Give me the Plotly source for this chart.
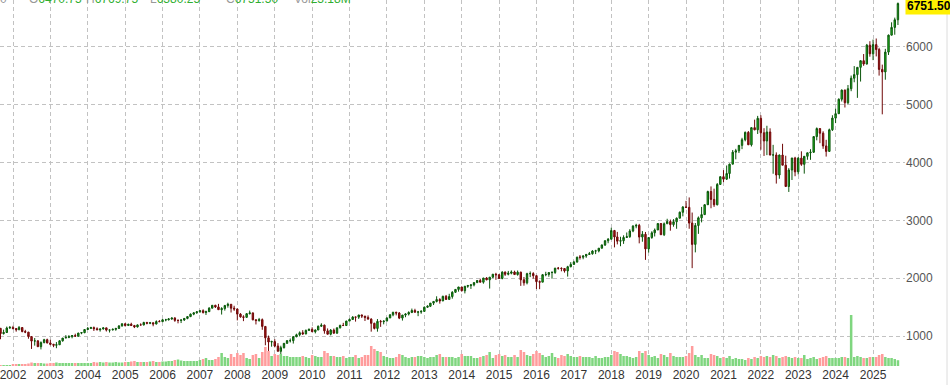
import plotly.graph_objects as go
import pandas as pd

# Monthly candles, Sep 2001 .. Sep 2025
dates = pd.date_range("2001-09-01", periods=289, freq="MS")

opens = [
    1133, 1041, 1060, 1139,
    1148, 1130, 1107, 1147, 1077, 1067, 990, 912, 916, 815, 886, 936,
    880, 856, 841, 848, 917, 964, 975, 990, 1008, 996, 1051, 1058,
    1112, 1131, 1145, 1126, 1107, 1121, 1141, 1102, 1104, 1115, 1130, 1174,
    1212, 1181, 1204, 1181, 1157, 1192, 1191, 1234, 1220, 1229, 1207, 1250,
    1248, 1280, 1281, 1295, 1311, 1270, 1270, 1277, 1304, 1336, 1378, 1401,
    1418, 1438, 1407, 1421, 1482, 1531, 1503, 1455, 1474, 1527, 1549, 1481,
    1468, 1379, 1331, 1323, 1386, 1400, 1280, 1267, 1283, 1166, 969, 896,
    903, 826, 735, 798, 873, 919, 919, 988, 1021, 1057, 1036, 1096,
    1115, 1074, 1104, 1169, 1187, 1089, 1031, 1102, 1049, 1141, 1183, 1181,
    1258, 1286, 1327, 1326, 1364, 1345, 1321, 1292, 1219, 1131, 1253, 1247,
    1258, 1312, 1366, 1409, 1398, 1310, 1362, 1379, 1407, 1441, 1412, 1416,
    1426, 1498, 1515, 1569, 1598, 1631, 1606, 1686, 1633, 1682, 1757, 1806,
    1848, 1783, 1860, 1872, 1884, 1924, 1960, 1931, 2003, 1972, 2018, 2068,
    2059, 1995, 2105, 2068, 2086, 2107, 2063, 2104, 1972, 1920, 2079, 2080,
    2044, 1940, 1932, 2060, 2065, 2097, 2099, 2174, 2171, 2168, 2126, 2199,
    2239, 2279, 2364, 2363, 2384, 2412, 2423, 2470, 2472, 2519, 2575, 2648,
    2674, 2824, 2714, 2641, 2648, 2705, 2718, 2816, 2902, 2914, 2712, 2760,
    2507, 2704, 2785, 2834, 2946, 2752, 2942, 2980, 2927, 2977, 3038, 3141,
    3231, 3226, 2954, 2585, 2912, 3044, 3100, 3271, 3500, 3363, 3270, 3622,
    3756, 3714, 3811, 3973, 4181, 4204, 4298, 4395, 4523, 4308, 4605, 4567,
    4766, 4516, 4374, 4530, 4132, 4132, 3785, 4130, 3955, 3586, 3872, 4080,
    3840, 4077, 3970, 4109, 4170, 4180, 4450, 4589, 4508, 4288, 4194, 4568,
    4770, 4846, 5096, 5254, 5036, 5278, 5460, 5522, 5648, 5763, 5705, 6032,
    5882, 6041, 5955, 5612, 5569, 5912, 6205, 6339, 6470.75,
]
highs = [
    1135, 1110, 1163, 1173,
    1176, 1131, 1173, 1147, 1107, 1071, 994, 965, 925, 907, 951, 954,
    935, 864, 895, 924, 965, 1015, 1015, 1011, 1040, 1054, 1063, 1112,
    1155, 1159, 1164, 1150, 1128, 1146, 1141, 1109, 1131, 1142, 1188, 1218,
    1217, 1212, 1229, 1192, 1200, 1219, 1246, 1245, 1243, 1233, 1270, 1276,
    1295, 1297, 1310, 1318, 1326, 1284, 1286, 1306, 1340, 1389, 1408, 1431,
    1441, 1462, 1438, 1498, 1535, 1540, 1556, 1498, 1538, 1576, 1553, 1523,
    1471, 1396, 1359, 1397, 1440, 1405, 1292, 1313, 1303, 1167, 1007, 919,
    944, 876, 832, 876, 930, 957, 997, 1040, 1080, 1101, 1113, 1130,
    1150, 1113, 1181, 1220, 1198, 1131, 1120, 1130, 1149, 1196, 1228, 1263,
    1302, 1344, 1333, 1364, 1370, 1346, 1356, 1307, 1230, 1293, 1278, 1268,
    1323, 1378, 1420, 1422, 1415, 1364, 1392, 1427, 1475, 1471, 1434, 1448,
    1510, 1530, 1570, 1598, 1687, 1654, 1698, 1710, 1730, 1775, 1813, 1849,
    1850, 1867, 1884, 1897, 1925, 1968, 1991, 2005, 2019, 2018, 2075, 2093,
    2072, 2120, 2117, 2126, 2135, 2130, 2133, 2113, 2021, 2094, 2117, 2104,
    2044, 1962, 2073, 2111, 2103, 2121, 2178, 2194, 2188, 2169, 2214, 2278,
    2301, 2371, 2401, 2398, 2418, 2454, 2484, 2491, 2520, 2582, 2657, 2695,
    2873, 2835, 2801, 2717, 2742, 2791, 2848, 2917, 2941, 2940, 2815, 2800,
    2708, 2813, 2860, 2949, 2954, 2964, 3028, 3014, 3022, 3050, 3154, 3248,
    3338, 3397, 3136, 2955, 3068, 3233, 3280, 3514, 3588, 3549, 3646, 3760,
    3870, 3950, 3983, 4218, 4238, 4302, 4429, 4538, 4546, 4608, 4743, 4808,
    4819, 4595, 4637, 4593, 4307, 4177, 4140, 4325, 4119, 3905, 4080, 4100,
    4095, 4195, 4110, 4170, 4232, 4455, 4608, 4590, 4542, 4394, 4588, 4819,
    4932, 5111, 5265, 5264, 5342, 5506, 5670, 5651, 5768, 5878, 6053, 6100,
    6128, 6147, 5986, 5695, 5968, 6215, 6427, 6508, 6769.75,
]
lows = [
    944, 1026, 1054, 1124,
    1114, 1075, 1106, 1064, 1049, 953, 776, 833, 815, 768, 873, 872,
    840, 807, 789, 847, 902, 963, 962, 960, 990, 996, 1031, 1048,
    1105, 1124, 1087, 1107, 1076, 1113, 1078, 1060, 1099, 1091, 1127, 1163,
    1164, 1180, 1176, 1137, 1147, 1188, 1184, 1202, 1205, 1168, 1202, 1246,
    1246, 1254, 1268, 1280, 1245, 1219, 1224, 1261, 1290, 1327, 1360, 1385,
    1403, 1389, 1364, 1416, 1477, 1484, 1454, 1371, 1439, 1490, 1406, 1435,
    1270, 1317, 1257, 1316, 1373, 1272, 1200, 1248, 1107, 840, 741, 815,
    804, 735, 667, 784, 866, 888, 869, 978, 992, 1020, 1029, 1086,
    1071, 1045, 1101, 1157, 1040, 1028, 1011, 1040, 1040, 1131, 1173, 1174,
    1257, 1284, 1249, 1295, 1311, 1259, 1283, 1075, 1114, 1075, 1158, 1202,
    1258, 1311, 1341, 1357, 1292, 1267, 1325, 1355, 1396, 1403, 1343, 1385,
    1426, 1485, 1501, 1536, 1581, 1560, 1605, 1627, 1633, 1646, 1746, 1767,
    1770, 1737, 1834, 1814, 1859, 1915, 1930, 1905, 1964, 1821, 2002, 1972,
    1988, 1981, 2040, 2049, 2067, 2056, 2044, 1867, 1871, 1893, 2019, 1993,
    1812, 1810, 1932, 2034, 2025, 1992, 2075, 2148, 2119, 2097, 2028, 2188,
    2233, 2271, 2322, 2328, 2353, 2405, 2407, 2417, 2447, 2515, 2557, 2605,
    2674, 2533, 2585, 2553, 2594, 2698, 2698, 2796, 2864, 2603, 2631, 2317,
    2444, 2681, 2722, 2834, 2750, 2729, 2942, 2822, 2891, 2855, 3038, 3070,
    3214, 2855, 2174, 2447, 2767, 2966, 3100, 3267, 3210, 3233, 3260, 3620,
    3662, 3700, 3723, 3973, 4057, 4165, 4233, 4368, 4306, 4279, 4560, 4495,
    4223, 4115, 4129, 4124, 3807, 3637, 3721, 3955, 3585, 3492, 3699, 3764,
    3794, 3944, 3809, 4049, 4048, 4167, 4385, 4336, 4238, 4104, 4188, 4547,
    4683, 4846, 5057, 4953, 5011, 5235, 5390, 5120, 5402, 5674, 5697, 5832,
    5773, 5837, 5505, 4835, 5434, 5862, 6202, 6212, 6380.25,
]
closes = [
    1041, 1060, 1139, 1148,
    1130, 1107, 1147, 1077, 1067, 990, 912, 916, 815, 886, 936, 880,
    856, 841, 848, 917, 964, 975, 990, 1008, 996, 1051, 1058, 1112,
    1131, 1145, 1126, 1107, 1121, 1141, 1102, 1104, 1115, 1130, 1174, 1212,
    1181, 1204, 1181, 1157, 1192, 1191, 1234, 1220, 1229, 1207, 1250, 1248,
    1280, 1281, 1295, 1311, 1270, 1270, 1277, 1304, 1336, 1378, 1401, 1418,
    1438, 1407, 1421, 1482, 1531, 1503, 1455, 1474, 1527, 1549, 1481, 1468,
    1379, 1331, 1323, 1386, 1400, 1280, 1267, 1283, 1166, 969, 896, 903,
    826, 735, 798, 873, 919, 919, 988, 1021, 1057, 1036, 1096, 1115,
    1074, 1104, 1169, 1187, 1089, 1031, 1102, 1049, 1141, 1183, 1181, 1258,
    1286, 1327, 1326, 1364, 1345, 1321, 1292, 1219, 1131, 1253, 1247, 1258,
    1312, 1366, 1409, 1398, 1310, 1362, 1379, 1407, 1441, 1412, 1416, 1426,
    1498, 1515, 1569, 1598, 1631, 1606, 1686, 1633, 1682, 1757, 1806, 1848,
    1783, 1860, 1872, 1884, 1924, 1960, 1931, 2003, 1972, 2018, 2068, 2059,
    1995, 2105, 2068, 2086, 2107, 2063, 2104, 1972, 1920, 2079, 2080, 2044,
    1940, 1932, 2060, 2065, 2097, 2099, 2174, 2171, 2168, 2126, 2199, 2239,
    2279, 2364, 2363, 2384, 2412, 2423, 2470, 2472, 2519, 2575, 2648, 2674,
    2824, 2714, 2641, 2648, 2705, 2718, 2816, 2902, 2914, 2712, 2760, 2507,
    2704, 2785, 2834, 2946, 2752, 2942, 2980, 2927, 2977, 3038, 3141, 3231,
    3226, 2954, 2585, 2912, 3044, 3100, 3271, 3500, 3363, 3270, 3622, 3756,
    3714, 3811, 3973, 4181, 4204, 4298, 4395, 4523, 4308, 4605, 4567, 4766,
    4516, 4374, 4530, 4132, 4132.5, 3785, 4130, 3955, 3586, 3872, 4080, 3840,
    4077, 3970, 4109, 4170, 4180, 4450, 4589, 4508, 4288, 4194, 4568, 4770,
    4846, 5096, 5254, 5036, 5278, 5460, 5522, 5648, 5763, 5705, 6032, 5882,
    6041, 5955, 5612, 5569, 5912, 6205, 6339, 6470.75, 6751.50,
]
# Monthly volume, millions of contracts
volumes = [
    4, 4, 4, 4,
    6, 6, 6, 8, 8, 10, 14, 12, 12, 12, 10, 10,
    12, 12, 14, 12, 12, 12, 12, 12, 12, 12, 12, 12,
    12, 12, 16, 14, 16, 14, 16, 14, 14, 16, 14, 14,
    16, 16, 18, 20, 16, 16, 16, 16, 18, 20, 16, 16,
    18, 18, 20, 20, 24, 26, 22, 20, 20, 20, 20, 20,
    24, 28, 32, 24, 24, 28, 36, 52, 36, 32, 48, 36,
    52, 44, 52, 32, 28, 44, 48, 32, 56, 76, 60, 40,
    48, 44, 48, 40, 40, 36, 36, 36, 36, 40, 36, 32,
    44, 40, 36, 36, 60, 52, 40, 40, 36, 36, 40, 32,
    36, 36, 44, 32, 36, 44, 44, 80, 68, 60, 56, 40,
    36, 32, 32, 36, 48, 44, 36, 32, 36, 36, 40, 40,
    36, 32, 36, 36, 44, 48, 36, 36, 36, 36, 32, 36,
    48, 40, 40, 40, 32, 32, 36, 40, 44, 56, 32, 44,
    48, 40, 44, 36, 36, 44, 36, 64, 56, 44, 40, 48,
    60, 52, 44, 36, 40, 52, 36, 32, 44, 40, 48, 40,
    36, 36, 40, 36, 36, 36, 32, 40, 32, 32, 36, 36,
    44, 60, 56, 48, 40, 40, 36, 32, 36, 60, 52, 60,
    44, 36, 40, 32, 48, 44, 36, 52, 40, 36, 36, 36,
    40, 52, 80, 44, 36, 44, 32, 32, 48, 44, 40, 32,
    36, 32, 40, 28, 32, 28, 28, 24, 32, 28, 36, 32,
    40, 36, 40, 36, 44, 40, 32, 36, 40, 36, 32, 36,
    32, 32, 44, 28, 32, 36, 28, 32, 36, 40, 32, 32,
    32, 32, 36, 36, 32, 204, 36, 40, 36, 32, 32, 36,
    36, 36, 44, 48, 36, 32, 32, 28, 23.18,
]
price_ticks = [1000, 2000, 3000, 4000, 5000, 6000]
last_price = closes[-1]
header_items = [("O", f"{opens[-1]:.2f}"), ("H", f"{highs[-1]:.2f}"),
                ("L", f"{lows[-1]:.2f}"), ("C", f"{closes[-1]:.2f}"),
                ("Vol", f"{volumes[-1]:.2f}M")]

UP_FILL, UP_LINE = "#1fc61f", "#0b560b"
DN_FILL, DN_LINE = "#a81414", "#700808"
VOL_UP, VOL_DN = "#7fd67f", "#ff9c9c"
GRID = "#c2c2c2"

vol_colors = [VOL_UP if c >= o else VOL_DN for o, c in zip(opens, closes)]

fig = go.Figure()
fig.add_trace(go.Candlestick(
    x=dates, open=opens, high=highs, low=lows, close=closes,
    increasing=dict(line=dict(color=UP_LINE, width=1), fillcolor=UP_FILL),
    decreasing=dict(line=dict(color=DN_LINE, width=1), fillcolor=DN_FILL),
    whiskerwidth=0, hoverinfo="skip",
))
fig.add_trace(go.Bar(
    x=dates, y=volumes, yaxis="y2", marker_color=vol_colors,
    marker_line_width=0, hoverinfo="skip",
))

PLOT_W = 950 - 45
header_x = [27, 84, 148, 224, 292]
annotations = []
annotations.append(dict(xref="paper", yref="paper", x=-2 / PLOT_W, y=1, xanchor="left",
                        yanchor="bottom", yshift=-8, showarrow=False,
                        text="<span style='color:#999'>0</span>",
                        font=dict(family="Liberation Sans, Arial", size=12)))
for (lab, val), px in zip(header_items, header_x):
    annotations.append(dict(
        xref="paper", yref="paper", x=px / PLOT_W, y=1, xanchor="left", yanchor="bottom",
        yshift=-8, showarrow=False,
        text=f"<span style='color:#999'>{lab}</span><span style='color:#2fae2f'>{val}</span>",
        font=dict(family="Liberation Sans, Arial", size=12),
    ))
annotations.append(dict(
    xref="paper", yref="y", x=1, y=last_price, xanchor="left", yanchor="middle",
    yshift=-2, showarrow=False, text=f"<b>{last_price:.2f}</b>",
    bgcolor="#fff000", borderpad=1,
    font=dict(family="Liberation Sans, Arial", size=12, color="#000"),
))

fig.update_layout(
    width=950, height=385,
    margin=dict(l=0, r=45, t=0, b=19),
    paper_bgcolor="white", plot_bgcolor="white",
    showlegend=False, bargap=0.12,
    font=dict(family="Liberation Sans, Arial"),
    xaxis=dict(
        type="date", range=["2001-08-27", "2025-11-09"],
        rangeslider=dict(visible=False),
        tick0="2002-01-01", dtick="M12", tickformat="%Y",
        showgrid=True, gridcolor=GRID, griddash="4px,3px", gridwidth=1,
        ticks="", showline=False, zeroline=False,
        ticklabeloverflow="allow",
        tickfont=dict(size=12, color="#333"),
    ),
    yaxis=dict(
        side="right", range=[481, 6813], tickvals=price_ticks,
        showgrid=True, gridcolor=GRID, griddash="4px,3px", gridwidth=1,
        ticks="", showline=False, zeroline=False,
        tickfont=dict(size=12, color="#555"),
    ),
    yaxis2=dict(overlaying="y", range=[0, 1464], visible=False, showgrid=False),
    annotations=annotations,
    shapes=[dict(type="line", xref="paper", yref="paper", x0=947 / PLOT_W, x1=947 / PLOT_W,
                 y0=-19 / 366, y1=1, line=dict(color="#dcdcdc", width=1))],
)

fig.write_html("out.html")
